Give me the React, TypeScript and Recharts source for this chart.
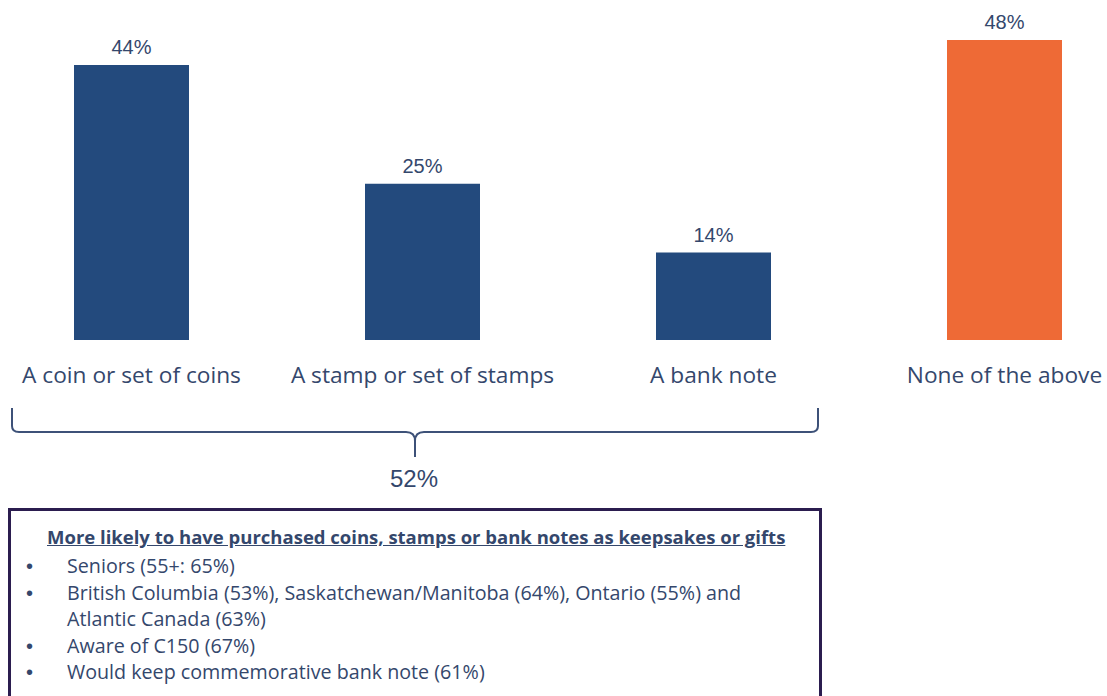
import React from "react";
import { BarChart, Bar, XAxis, YAxis, Cell, LabelList } from "recharts";

const categories = ["A coin or set of coins", "A stamp or set of stamps", "A bank note", "None of the above"];
const values = [44, 25, 14, 48];
const barColors = ["#234a7d", "#234a7d", "#234a7d", "#ee6a36"];

const combinedLabel = "52%";
const boxTitle = "More likely to have purchased coins, stamps or bank notes as keepsakes or gifts";
const boxBullets = [
  ["Seniors (55+: 65%)"],
  ["British Columbia (53%), Saskatchewan/Manitoba (64%), Ontario (55%) and", "Atlantic Canada (63%)"],
  ["Aware of C150 (67%)"],
  ["Would keep commemorative bank note (61%)"],
];

const data = categories.map((name, i) => ({ name, value: values[i], fill: barColors[i] }));

const TEXT = "#34476c";
const FONT = "'Open Sans', Lato, sans-serif";

const CategoryTick = (props: any) => {
  const { x, y, payload } = props;
  return (
    <text x={x} y={y + 35} textAnchor="middle" fill={TEXT} fontSize={22.7} fontFamily={FONT}>
      {payload.value}
    </text>
  );
};

export default function App() {
  return (
    <div style={{ position: "absolute", left: 0, top: 0, width: 1107, height: 696, overflow: "hidden", background: "#fff" }}>
      <div style={{ position: "absolute", left: -14, top: 0 }}>
        <BarChart
          width={1164}
          height={400}
          data={data}
          margin={{ top: 27.5, right: 0, left: 0, bottom: 0 }}
          barSize={115}
        >
          <XAxis
            dataKey="name"
            axisLine={false}
            tickLine={false}
            interval={0}
            height={60}
            tick={<CategoryTick />}
          />
          <YAxis hide domain={[0, 50]} />
          <Bar dataKey="value" isAnimationActive={false}>
            {data.map((d, i) => (
              <Cell key={i} fill={d.fill} />
            ))}
            <LabelList
              dataKey="value"
              position="top"
              offset={11}
              formatter={(v: any) => `${v}%`}
              style={{ fill: TEXT, fontSize: 20, fontFamily: "'Liberation Sans', Arial, sans-serif" }}
            />
          </Bar>
        </BarChart>
      </div>

      {/* brace grouping the three keepsake bars */}
      <svg width={1107} height={696} style={{ position: "absolute", left: 0, top: 0, pointerEvents: "none" }}>
        <path
          d="M 12 408 L 12 426 Q 12 432 19 432 L 406 432 Q 415 432 415 441 L 415 457 M 415 441 Q 415 432 424 432 L 811 432 Q 818 432 818 426 L 818 408"
          fill="none"
          stroke="#3d5178"
          strokeWidth={2}
        />
        <text x={414} y={487} textAnchor="middle" fill={TEXT} fontSize={24} fontFamily="'Liberation Sans', Arial, sans-serif">
          {combinedLabel}
        </text>
      </svg>

      {/* callout box */}
      <div
        style={{
          position: "absolute",
          left: 8,
          top: 508,
          width: 808,
          height: 200,
          borderTop: "3px solid #2b1d4f",
          borderLeft: "3px solid #2b1d4f",
          borderRight: "3px solid #2b1d4f",
          fontFamily: FONT,
          color: TEXT,
          fontSize: 19.7,
        }}
      >
        <div style={{ position: "absolute", left: 36, top: 13, fontWeight: 700, textDecoration: "underline", whiteSpace: "nowrap", fontSize: 18.5 }}>
          {boxTitle}
        </div>
        <div style={{ position: "absolute", left: 0, top: 42, lineHeight: "26.5px" }}>
          {boxBullets.map((lines, i) => (
            <div key={i}>
              {lines.map((line, j) => (
                <div key={j} style={{ position: "relative", paddingLeft: 56, whiteSpace: "nowrap" }}>
                  {j === 0 && (
                    <span style={{ position: "absolute", left: 15, fontFamily: "'Liberation Sans', Arial, sans-serif", fontSize: 20 }}>•</span>
                  )}
                  {line}
                </div>
              ))}
            </div>
          ))}
        </div>
      </div>
    </div>
  );
}
